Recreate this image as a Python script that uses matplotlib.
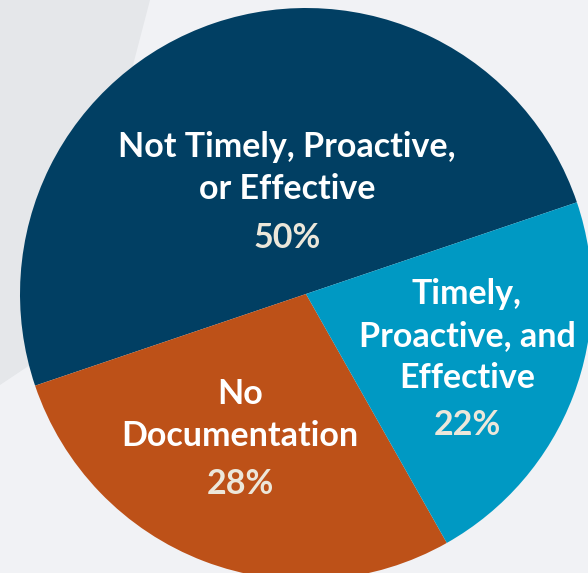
import matplotlib
matplotlib.use("Agg")
import matplotlib.pyplot as plt
import numpy as np
from matplotlib.patches import Polygon

categories = ["Not Timely, Proactive,\nor Effective", "No\nDocumentation", "Timely,\nProactive, and\nEffective"]
values = [50, 28, 22]
pct_labels = ["50%", "28%", "22%"]
colors = ["#013F63", "#BD5118", "#0099C3"]

W, H = 588, 573
fig = plt.figure(figsize=(W / 100, H / 100), dpi=100)
fig.patch.set_facecolor("#F1F2F5")
ax = fig.add_axes([0, 0, 1, 1])
ax.set_xlim(0, W)
ax.set_ylim(0, H)
ax.set_aspect("equal")
ax.axis("off")

# subtle background shading
ax.add_patch(Polygon([(0, H), (150, H), (60, H - 345), (0, H - 385)], closed=True,
                     facecolor="#E5E7EA", edgecolor="none", zorder=0))

cx, cy, r = 306, H - 294, 286
wedges, _ = ax.pie(values, colors=colors, startangle=18.7, counterclock=True,
                   center=(cx, cy), radius=r, frame=True,
                   wedgeprops=dict(linewidth=0))
ax.set_xlim(0, W)
ax.set_ylim(0, H)
ax.axis("off")

font = dict(family="Lato", weight="bold", fontsize=24.5, color="white",
            ha="center", va="center", linespacing=1.40)
pct_color = "#ECE7DA"

ax.text(287, H - 168, categories[0], **font)
ax.text(287, H - 238, pct_labels[0], **{**font, "color": pct_color})

ax.text(240, H - 415, categories[1], **font)
ax.text(240, H - 484, pct_labels[1], **{**font, "color": pct_color})

ax.text(467, H - 336, categories[2], **font)
ax.text(467, H - 425, pct_labels[2], **{**font, "color": pct_color})

fig.savefig("out.png", dpi=100, facecolor=fig.get_facecolor())
